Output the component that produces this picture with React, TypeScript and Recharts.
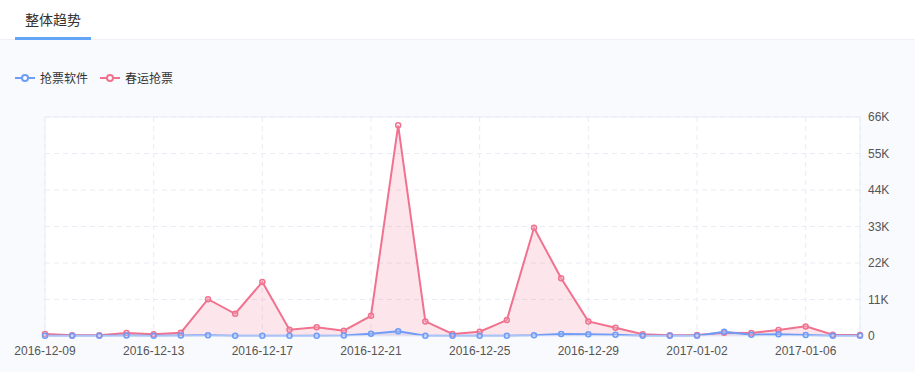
import { Area, AreaChart, CartesianGrid, Legend, ReferenceLine, XAxis, YAxis } from "recharts";

const dates = [
  "2016-12-09", "2016-12-10", "2016-12-11", "2016-12-12", "2016-12-13", "2016-12-14",
  "2016-12-15", "2016-12-16", "2016-12-17", "2016-12-18", "2016-12-19", "2016-12-20",
  "2016-12-21", "2016-12-22", "2016-12-23", "2016-12-24", "2016-12-25", "2016-12-26",
  "2016-12-27", "2016-12-28", "2016-12-29", "2016-12-30", "2016-12-31", "2017-01-01",
  "2017-01-02", "2017-01-03", "2017-01-04", "2017-01-05", "2017-01-06", "2017-01-07",
  "2017-01-08",
];

// 抢票软件
const softwareValues = [
  100, 50, 100, 150, 100, 150, 200, 100, 100, 100, 100, 150,
  700, 1400, 100, 100, 100, 100, 200, 600, 500, 400, 100, 100,
  100, 1300, 400, 500, 300, 100, 100,
];

// 春运抢票
const springValues = [
  600, 200, 200, 900, 500, 1000, 11100, 6700, 16300, 1900, 2600, 1600,
  6100, 63500, 4400, 600, 1300, 4800, 32600, 17400, 4400, 2500, 500, 200,
  300, 1000, 900, 1800, 2900, 400, 300,
];

const xTicks = [
  "2016-12-09", "2016-12-13", "2016-12-17", "2016-12-21",
  "2016-12-25", "2016-12-29", "2017-01-02", "2017-01-06",
];
const yTicks = [0, 11000, 22000, 33000, 44000, 55000, 66000];

const seriesNames = ["抢票软件", "春运抢票"];
const BLUE = "#6e9cf7";
const RED = "#f0728f";

const data = dates.map((d, i) => ({
  date: d,
  software: softwareValues[i],
  spring: springValues[i],
}));

const font = "'Liberation Sans', 'Noto Sans CJK SC', sans-serif";

function LegendContent() {
  const items = [
    { name: seriesNames[0], color: BLUE },
    { name: seriesNames[1], color: RED },
  ];
  return (
    <div style={{ display: "flex", fontSize: 12, color: "#333", fontFamily: font }}>
      {items.map((it) => (
        <div key={it.name} style={{ display: "flex", alignItems: "center", marginRight: 12 }}>
          <svg width={20} height={10} style={{ marginRight: 5 }}>
            <line x1={0} y1={5} x2={20} y2={5} stroke={it.color} strokeWidth={2} />
            <circle cx={10} cy={5} r={3} fill="#fff" stroke={it.color} strokeWidth={2} />
          </svg>
          <span>{it.name}</span>
        </div>
      ))}
    </div>
  );
}

export default function App() {
  return (
    <div
      style={{
        position: "absolute",
        left: 0,
        top: 0,
        width: 915,
        height: 372,
        background: "#f9fafd",
        fontFamily: font,
        overflow: "hidden",
      }}
    >
      <div
        style={{
          height: 40,
          background: "#fff",
          borderBottom: "1px solid #eef1f6",
          position: "relative",
          boxSizing: "border-box",
        }}
      >
        <div style={{ position: "absolute", left: 25, top: 9, fontSize: 14, color: "#333" }}>整体趋势</div>
        <div style={{ position: "absolute", left: 15, top: 37, width: 76, height: 3, background: "#63a6f8" }} />
      </div>
      <AreaChart
        width={915}
        height={332}
        data={data}
        margin={{ top: 60, right: 0, bottom: 0, left: 45 }}
        style={{ fontFamily: font }}
      >
        <CartesianGrid stroke="#e8ecf4" strokeDasharray="5 4" fill="#fff" />
        <ReferenceLine y={66000} stroke="#e8edf7" />
        <ReferenceLine x={dates[0]} stroke="#e8edf7" />
        <ReferenceLine x={dates[dates.length - 1]} stroke="#e8edf7" />
        <XAxis
          dataKey="date"
          ticks={xTicks}
          interval={0}
          height={36}
          tickLine={false}
          axisLine={{ stroke: "#e8edf7" }}
          tick={{ fill: "#555", fontSize: 12 }}
          tickMargin={4}
        />
        <YAxis
          orientation="right"
          width={55}
          domain={[0, 66000]}
          ticks={yTicks}
          tickLine={false}
          axisLine={false}
          tick={{ fill: "#555", fontSize: 12, textAnchor: "start" }}
          tickMargin={2}
          tickFormatter={(v: number) => (v === 0 ? "0" : `${v / 1000}K`)}
        />
        <Legend
          verticalAlign="top"
          align="left"
          content={<LegendContent />}
          wrapperStyle={{ top: 29, left: 15, width: "auto" }}
        />
        <Area
          type="linear"
          dataKey="spring"
          name={seriesNames[1]}
          stroke={RED}
          strokeWidth={2}
          fill={RED}
          fillOpacity={0.18}
          dot={{ r: 2.5, fill: "#fff", stroke: RED, strokeWidth: 1.5 }}
          activeDot={false}
          isAnimationActive={false}
        />
        <Area
          type="linear"
          dataKey="software"
          name={seriesNames[0]}
          stroke={BLUE}
          strokeWidth={2}
          fill={BLUE}
          fillOpacity={0.18}
          dot={{ r: 2.5, fill: "#fff", stroke: BLUE, strokeWidth: 1.5 }}
          activeDot={false}
          isAnimationActive={false}
        />
      </AreaChart>
    </div>
  );
}
